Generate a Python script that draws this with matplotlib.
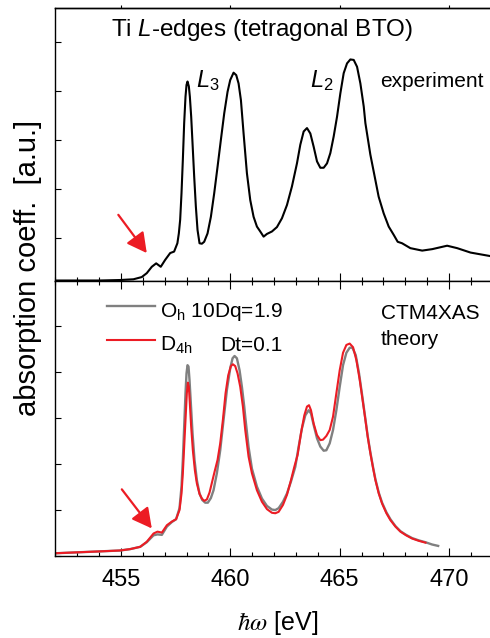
import numpy as np
import matplotlib
matplotlib.use("Agg")
import matplotlib.pyplot as plt
from matplotlib.ticker import MultipleLocator

# Data (arbitrary units)

# experiment, Ti L-edges of tetragonal BTO
exp_ev = [452.0, 453.0, 454.0, 454.96, 455.57, 455.95, 456.18, 456.41, 456.61, 456.82,
          457.02, 457.25, 457.43, 457.58, 457.646, 457.707, 457.768, 457.829, 457.890, 457.951,
          457.997, 458.043, 458.104, 458.150, 458.211, 458.272, 458.348, 458.424, 458.501, 458.592,
          458.699, 458.805, 458.958, 459.111, 459.263, 459.416, 459.568, 459.721, 459.873, 459.995,
          460.148, 460.270, 460.377, 460.484, 460.606, 460.758, 460.911, 461.063, 461.216, 461.368,
          461.521, 461.673, 461.902, 462.131, 462.360, 462.589, 462.817, 463.046, 463.199, 463.352,
          463.504, 463.657, 463.809, 463.962, 464.114, 464.267, 464.420, 464.572, 464.725, 464.877,
          465.030, 465.182, 465.335, 465.487, 465.640, 465.793, 465.945, 466.098, 466.174, 466.40,
          466.63, 466.78, 467.01, 467.24, 467.47, 467.65, 467.85, 468.23, 468.77, 469.23,
          469.91, 470.37, 470.98, 471.86, 472.0]
exp_abs = [0.03, 0.03, 0.03, 0.04, 0.055, 0.10, 0.18, 0.31, 0.38, 0.31,
           0.45, 0.59, 0.62, 0.79, 0.99, 1.27, 1.81, 2.49, 3.24, 3.78,
           4.02, 4.09, 3.99, 3.78, 3.37, 2.83, 2.15, 1.54, 1.06, 0.79,
           0.78, 0.82, 0.99, 1.33, 1.81, 2.35, 2.90, 3.44, 3.88, 4.12,
           4.27, 4.22, 4.05, 3.71, 3.03, 2.22, 1.67, 1.33, 1.13, 1.03,
           0.925, 0.98, 1.03, 1.12, 1.30, 1.57, 1.95, 2.42, 2.80, 3.07,
           3.14, 3.03, 2.76, 2.46, 2.33, 2.33, 2.42, 2.63, 2.97, 3.37,
           3.85, 4.26, 4.46, 4.54, 4.53, 4.39, 4.05, 3.58, 3.24, 2.60,
           2.08, 1.74, 1.40, 1.13, 0.96, 0.82, 0.79, 0.69, 0.64, 0.67,
           0.74, 0.69, 0.60, 0.53, 0.52]

# CTM4XAS, O_h, 10Dq = 1.9
oh_ev = [452.0, 453.0, 454.0, 454.96, 455.42, 455.88, 456.18, 456.49, 456.67, 456.87,
         457.10, 457.33, 457.52, 457.677, 457.768, 457.829, 457.890, 457.951, 457.997, 458.043,
         458.088, 458.134, 458.195, 458.272, 458.363, 458.470, 458.592, 458.714, 458.851, 458.973,
         459.110, 459.232, 459.385, 459.538, 459.690, 459.843, 459.995, 460.102, 460.194, 460.300,
         460.422, 460.529, 460.636, 460.682, 460.834, 460.987, 461.216, 461.445, 461.673, 461.902,
         462.055, 462.207, 462.406, 462.589, 462.772, 462.970, 463.123, 463.275, 463.428, 463.580,
         463.687, 463.809, 463.962, 464.114, 464.267, 464.389, 464.542, 464.694, 464.847, 465.000,
         465.152, 465.305, 465.457, 465.580, 465.732, 465.884, 466.037, 466.174, 466.28, 466.403,
         466.525, 466.632, 466.784, 466.937, 467.135, 467.318, 467.547, 467.776, 468.035, 468.310,
         468.615, 468.920, 469.225, 469.50]
oh_abs = [0.06, 0.08, 0.10, 0.12, 0.15, 0.20, 0.30, 0.45, 0.47, 0.46,
          0.64, 0.74, 0.80, 1.04, 1.51, 2.09, 2.81, 3.54, 3.97, 4.15,
          4.12, 3.83, 3.32, 2.67, 2.09, 1.65, 1.36, 1.22, 1.16, 1.16,
          1.26, 1.43, 1.80, 2.30, 2.96, 3.61, 4.08, 4.30, 4.35, 4.30,
          4.04, 3.68, 3.25, 3.03, 2.37, 1.90, 1.51, 1.25, 1.09, 1.01,
          1.00, 1.04, 1.18, 1.36, 1.62, 1.94, 2.38, 2.78, 3.06, 3.17,
          3.10, 2.85, 2.56, 2.38, 2.29, 2.30, 2.45, 2.74, 3.17, 3.68,
          4.15, 4.42, 4.53, 4.53, 4.37, 3.97, 3.46, 2.98, 2.61, 2.25,
          1.93, 1.67, 1.38, 1.16, 0.95, 0.80, 0.65, 0.54, 0.46, 0.39,
          0.34, 0.30, 0.25, 0.22]

# CTM4XAS, D_4h, Dt = 0.1
d4h_ev = [452.0, 453.0, 454.0, 454.96, 455.42, 455.88, 456.18, 456.49, 456.67, 456.87,
          457.10, 457.33, 457.52, 457.677, 457.768, 457.829, 457.890, 457.951, 458.012, 458.058,
          458.104, 458.149, 458.210, 458.287, 458.378, 458.470, 458.592, 458.699, 458.805, 458.927,
          459.049, 459.171, 459.278, 459.416, 459.538, 459.660, 459.782, 459.904, 460.026, 460.117,
          460.224, 460.331, 460.453, 460.575, 460.682, 460.834, 460.987, 461.216, 461.445, 461.673,
          461.902, 462.055, 462.207, 462.406, 462.589, 462.772, 462.925, 463.077, 463.230, 463.382,
          463.504, 463.596, 463.687, 463.809, 463.962, 464.114, 464.236, 464.389, 464.542, 464.694,
          464.847, 465.000, 465.152, 465.305, 465.457, 465.610, 465.762, 465.915, 466.067, 466.174,
          466.28, 466.403, 466.525, 466.632, 466.784, 466.937, 467.135, 467.318, 467.547, 467.776,
          468.035, 468.310, 468.615, 468.920]
d4h_abs = [0.06, 0.08, 0.10, 0.12, 0.15, 0.20, 0.31, 0.49, 0.53, 0.51,
           0.67, 0.75, 0.80, 1.00, 1.36, 1.80, 2.38, 2.96, 3.54, 3.77,
           3.68, 3.32, 2.81, 2.30, 1.87, 1.58, 1.35, 1.25, 1.20, 1.23,
           1.38, 1.62, 1.83, 2.09, 2.45, 2.96, 3.54, 3.93, 4.13, 4.17,
           4.13, 3.97, 3.68, 3.25, 2.74, 2.16, 1.80, 1.43, 1.18, 1.02,
           0.94, 0.93, 0.96, 1.11, 1.33, 1.65, 1.94, 2.20, 2.67, 3.06,
           3.25, 3.28, 3.17, 2.88, 2.63, 2.52, 2.53, 2.61, 2.74, 3.03,
           3.54, 4.04, 4.42, 4.59, 4.62, 4.54, 4.26, 3.83, 3.32, 2.96,
           2.59, 2.23, 1.91, 1.65, 1.36, 1.14, 0.93, 0.78, 0.64, 0.53,
           0.45, 0.38, 0.33, 0.29]

x_ticks = [455, 460, 465, 470]

# Styling

FONT = 'Liberation Sans'
RED = '#ec1c24'
GRAY = '#808080'

plt.rcParams['font.family'] = [FONT, 'DejaVu Sans']
plt.rcParams['mathtext.fontset'] = 'custom'
plt.rcParams['mathtext.rm'] = FONT
plt.rcParams['mathtext.it'] = FONT + ':italic'
plt.rcParams['mathtext.bf'] = FONT + ':bold'
plt.rcParams['axes.linewidth'] = 1.0


def style_axis(ax, top_panel):
    ax.set_xlim(452, 472)
    ax.xaxis.set_major_locator(MultipleLocator(5))
    ax.xaxis.set_minor_locator(MultipleLocator(1))
    ax.spines['right'].set_visible(False)
    ax.tick_params(axis='y', which='both', direction='in', length=4.5, width=0.8,
                   left=True, right=False, labelleft=False)
    ax.tick_params(axis='x', which='major', direction='in', length=5.5, width=0.8)
    ax.tick_params(axis='x', which='minor', direction='in', length=3.2, width=0.8)
    if top_panel:
        ax.tick_params(axis='x', which='both', top=False, bottom=True,
                       labelbottom=False)
    else:
        ax.tick_params(axis='x', which='both', top=True, bottom=True,
                       labelsize=17, pad=9)


def arrow(ax, start, tip):
    ax.annotate('', xy=tip, xytext=start,
                arrowprops=dict(arrowstyle='-|>,head_length=0.6,head_width=0.32',
                                color=RED, lw=1.6, shrinkA=0, shrinkB=0,
                                mutation_scale=20))


def main():
    fig = plt.figure(figsize=(4.9, 6.38), dpi=100)
    left, width = 0.1129, 0.8929
    ax_top = fig.add_axes([left, 0.5588, width, 0.4287])
    ax_bot = fig.add_axes([left, 0.1285, width, 0.4303])

    # Experiment panel
    ax_top.plot(exp_ev, exp_abs, color='black', lw=1.5, solid_joinstyle='round')
    ax_top.set_ylim(0.01, 5.59)
    ax_top.set_yticks([0.9, 1.9, 2.9, 3.9, 4.9])
    style_axis(ax_top, True)
    # short outward major ticks on the very top edge
    sec = ax_top.secondary_xaxis('top')
    sec.set_xticks(x_ticks)
    sec.tick_params(direction='out', length=2, width=0.8, labeltop=False)

    ax_top.text(461.46, 5.14, 'Ti $\\it{L}$-edges (tetragonal BTO)', fontsize=17.5,
                ha='center', va='center')
    ax_top.text(458.45, 3.98, '$\\mathit{L_3}$', fontsize=17, ha='left', va='baseline')
    ax_top.text(463.66, 3.98, '$\\mathit{L_2}$', fontsize=17, ha='left', va='baseline')
    ax_top.text(466.87, 3.98, 'experiment', fontsize=15, ha='left', va='baseline')
    arrow(ax_top, (454.88, 1.37), (456.18, 0.59))

    # Theory panel
    ax_bot.plot(oh_ev, oh_abs, color=GRAY, lw=1.7, solid_joinstyle='round')
    ax_bot.plot(d4h_ev, d4h_abs, color=RED, lw=1.5, solid_joinstyle='round')
    ax_bot.set_ylim(0, 5.97)
    ax_bot.yaxis.set_major_locator(MultipleLocator(1))
    style_axis(ax_bot, False)
    ax_bot.set_xticks(x_ticks)

    # hand-made legend
    ax_bot.plot([454.37, 456.57], [5.43, 5.43], color=GRAY, lw=1.7)
    ax_bot.plot([454.37, 456.57], [4.70, 4.70], color=RED, lw=1.5)
    ax_bot.text(456.8, 5.20, 'O$_\\mathrm{h}$ 10Dq=1.9', fontsize=15,
                ha='left', va='baseline')
    ax_bot.text(456.8, 4.46, 'D$_\\mathrm{4h}$', fontsize=15, ha='left', va='baseline')
    ax_bot.text(459.55, 4.46, 'Dt=0.1', fontsize=15, ha='left', va='baseline')
    ax_bot.text(466.87, 5.15, 'CTM4XAS', fontsize=15, ha='left', va='baseline')
    ax_bot.text(466.87, 4.59, 'theory', fontsize=15, ha='left', va='baseline')
    arrow(ax_bot, (455.04, 1.45), (456.41, 0.60))

    fig.text(0.057, 1 - 268 / 638, 'absorption coeff.  [a.u.]', rotation=90,
             fontsize=21, ha='center', va='center')
    fig.text(0.567, 1 - 623 / 638, '$\\hbar\\omega$ [eV]', fontsize=18,
             ha='center', va='center', math_fontfamily='stix')

    fig.savefig('out.png', dpi=100)
    plt.close(fig)


if __name__ == "__main__":
    main()
